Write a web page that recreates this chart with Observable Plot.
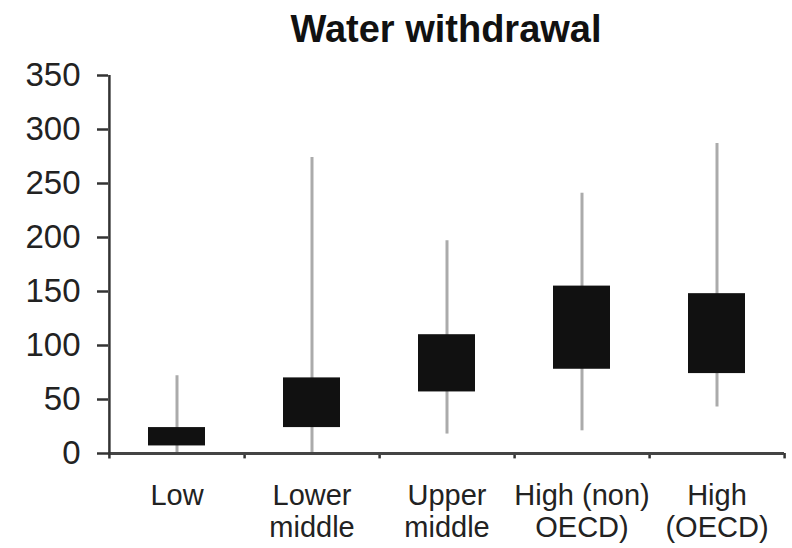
<!DOCTYPE html>
<html>
<head>
<meta charset="utf-8">
<script src="https://cdn.jsdelivr.net/npm/d3@7"></script>
<script src="https://cdn.jsdelivr.net/npm/@observablehq/plot@0.6"></script>
<style>
  body { margin: 0; background: #fff; font-family: "Liberation Sans", Arial, sans-serif; }
  #title { height: 55px; line-height: 58px; margin-left: 100px; width: 692px; text-align: center;
           font-size: 38px; font-weight: bold; color: #111; }
</style>
</head>
<body>
<div id="title">Water withdrawal</div>
<div id="chart"></div>
<script>
const categories = ["Low", "Lower\nmiddle", "Upper\nmiddle", "High (non)\nOECD)", "High\n(OECD)"];
const whiskerMin = [0, 0, 18, 21, 43];
const boxLow = [7, 24, 57, 78, 74];
const boxHigh = [24, 70, 110, 155, 148];
const whiskerMax = [72, 274, 197, 241, 287];
const yTicks = [0, 50, 100, 150, 200, 250, 300, 350];

const data = categories.map((c, i) => ({
  cat: c, min: whiskerMin[i], q1: boxLow[i], q3: boxHigh[i], max: whiskerMax[i]
}));

const W = 792, H = 493, mL = 108, mR = 8, mT = 20, mB = 95;
const step = (W - mL - mR) / categories.length;

const chart = Plot.plot({
  width: W, height: H,
  marginLeft: mL, marginRight: mR, marginTop: mT, marginBottom: mB,
  style: { fontFamily: "'Liberation Sans', Arial, sans-serif", color: "#222", background: "#fff" },
  x: { domain: categories, padding: 0, label: null },
  y: { domain: [0, 350], label: null },
  marks: [
    Plot.axisY({ ticks: yTicks, tickSize: 11, tickPadding: 17, fontSize: 33, stroke: "#333", strokeWidth: 2.5, label: null }),
    Plot.axisX({ tickSize: 0, tickPadding: 29, fontSize: 29, lineHeight: 1.1, label: null }),
    Plot.ruleX(data, { x: "cat", y1: "min", y2: "max", stroke: "#ababab", strokeWidth: 3 }),
    Plot.barY(data, { x: "cat", y1: "q1", y2: "q3", fill: "#111", insetLeft: 39, insetRight: 39 }),
    Plot.ruleX(data, { x: "cat", y1: 0, y2: -5, dx: step / 2, stroke: "#333", strokeWidth: 2.5 }),
    Plot.ruleY([0], { stroke: "#444", strokeWidth: 3 }),
    Plot.ruleX([categories[0]], { y1: -5, y2: 350, dx: -step / 2, stroke: "#333", strokeWidth: 2.5 })
  ]
});
document.getElementById("chart").appendChild(chart);
</script>
</body>
</html>
